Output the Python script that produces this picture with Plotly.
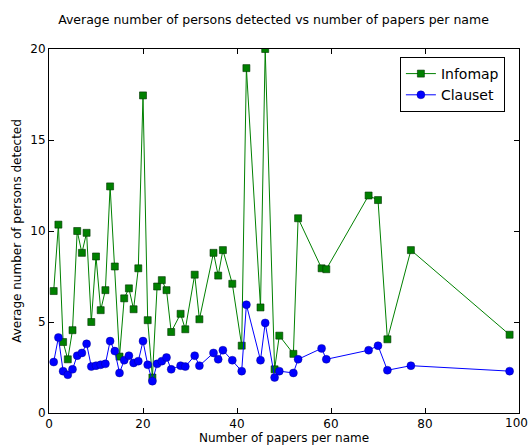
import plotly.graph_objects as go

infomap_x = [1, 2, 3, 4, 5, 6, 7, 8, 9, 10, 11, 12, 13, 14, 15, 16, 17, 18, 19, 20,
             21, 22, 23, 24, 25, 26, 28, 29, 31, 32, 35, 36, 37, 39, 41, 42, 45, 46,
             48, 49, 52, 53, 58, 59, 68, 70, 72, 77, 98]
infomap_y = [6.7, 10.35, 3.9, 2.95, 4.55, 10.0, 8.8, 9.9, 5.0, 8.6, 5.65, 6.75, 12.45,
             8.05, 3.1, 6.3, 6.85, 5.7, 7.95, 17.45, 5.1, 1.95, 6.95, 7.3, 6.75, 4.45,
             5.45, 4.6, 7.6, 5.15, 8.8, 7.55, 8.95, 7.1, 3.7, 18.95, 5.8, 20.0,
             2.4, 4.25, 3.25, 10.7, 7.95, 7.9, 11.95, 11.7, 4.05, 8.95, 4.3]

clauset_x = infomap_x
clauset_y = [2.8, 4.15, 2.3, 2.1, 2.4, 3.15, 3.3, 3.8, 2.55, 2.6, 2.65, 2.7, 3.95,
             3.4, 2.2, 2.9, 3.15, 2.75, 2.85, 3.95, 2.65, 1.75, 2.7, 2.85, 3.05, 2.4,
             2.6, 2.55, 3.15, 2.6, 3.3, 2.95, 3.45, 2.9, 2.3, 5.95, 2.9, 4.95,
             1.95, 2.3, 2.2, 2.95, 3.55, 2.95, 3.45, 3.7, 2.35, 2.6, 2.3]

x_ticks = [0, 20, 40, 60, 80, 100]
x_tick_labels = ["0", "20", "40", "60", "80", "100"]
y_ticks = [0, 5, 10, 15, 20]

fig = go.Figure()
fig.add_trace(go.Scatter(
    x=infomap_x, y=infomap_y, mode="lines+markers", name="Infomap",
    line=dict(color="#008000", width=1),
    marker=dict(symbol="square", size=7, color="#008000",
                line=dict(color="#003300", width=0.6)),
))
fig.add_trace(go.Scatter(
    x=clauset_x, y=clauset_y, mode="lines+markers", name="Clauset",
    line=dict(color="#0000ff", width=1),
    marker=dict(symbol="circle", size=8, color="#0000ff",
                line=dict(color="#000080", width=0.4)),
))

axis_common = dict(
    showline=True, linecolor="black", linewidth=1, mirror="ticks",
    ticks="inside", ticklen=5, tickcolor="black", showgrid=False,
    zeroline=False, tickfont=dict(size=12, color="black"),
    automargin=False, ticklabeloverflow="allow",
)

# last x tick label sits at the page edge; draw it as text nudged to stay inside
fig.add_annotation(x=1, xref="paper", y=0, yref="paper", yanchor="top",
                   xanchor="center", xshift=-3, yshift=-1, text=x_tick_labels[-1],
                   showarrow=False, font=dict(size=12, color="black"))

fig.update_layout(
    width=529, height=445,
    margin=dict(l=49, r=10, t=49, b=32),
    paper_bgcolor="white", plot_bgcolor="white",
    font=dict(family="DejaVu Sans", color="black"),
    title=dict(text="Average number of persons detected vs number of papers per name",
               x=0.517, xanchor="center", y=0.957, yanchor="middle",
               font=dict(size=12.5, color="black")),
    xaxis=dict(range=[0, 100], tickvals=x_ticks[:-1], ticktext=x_tick_labels[:-1],
               title=dict(text="Number of papers per name", font=dict(size=12), standoff=2),
               **axis_common),
    yaxis=dict(range=[0, 20], tickvals=y_ticks,
               title=dict(text="Average number of persons detected", font=dict(size=12), standoff=6),
               **axis_common),
    legend=dict(x=0.97, y=0.978, xanchor="right", yanchor="top",
                bordercolor="black", borderwidth=1, bgcolor="white",
                font=dict(size=14, color="black"), itemwidth=30,
                tracegroupgap=0),
    showlegend=True,
)

fig.write_html("out.html", config={"displayModeBar": False},
               post_script="document.body.style.margin='0';document.body.style.overflow='hidden';")
